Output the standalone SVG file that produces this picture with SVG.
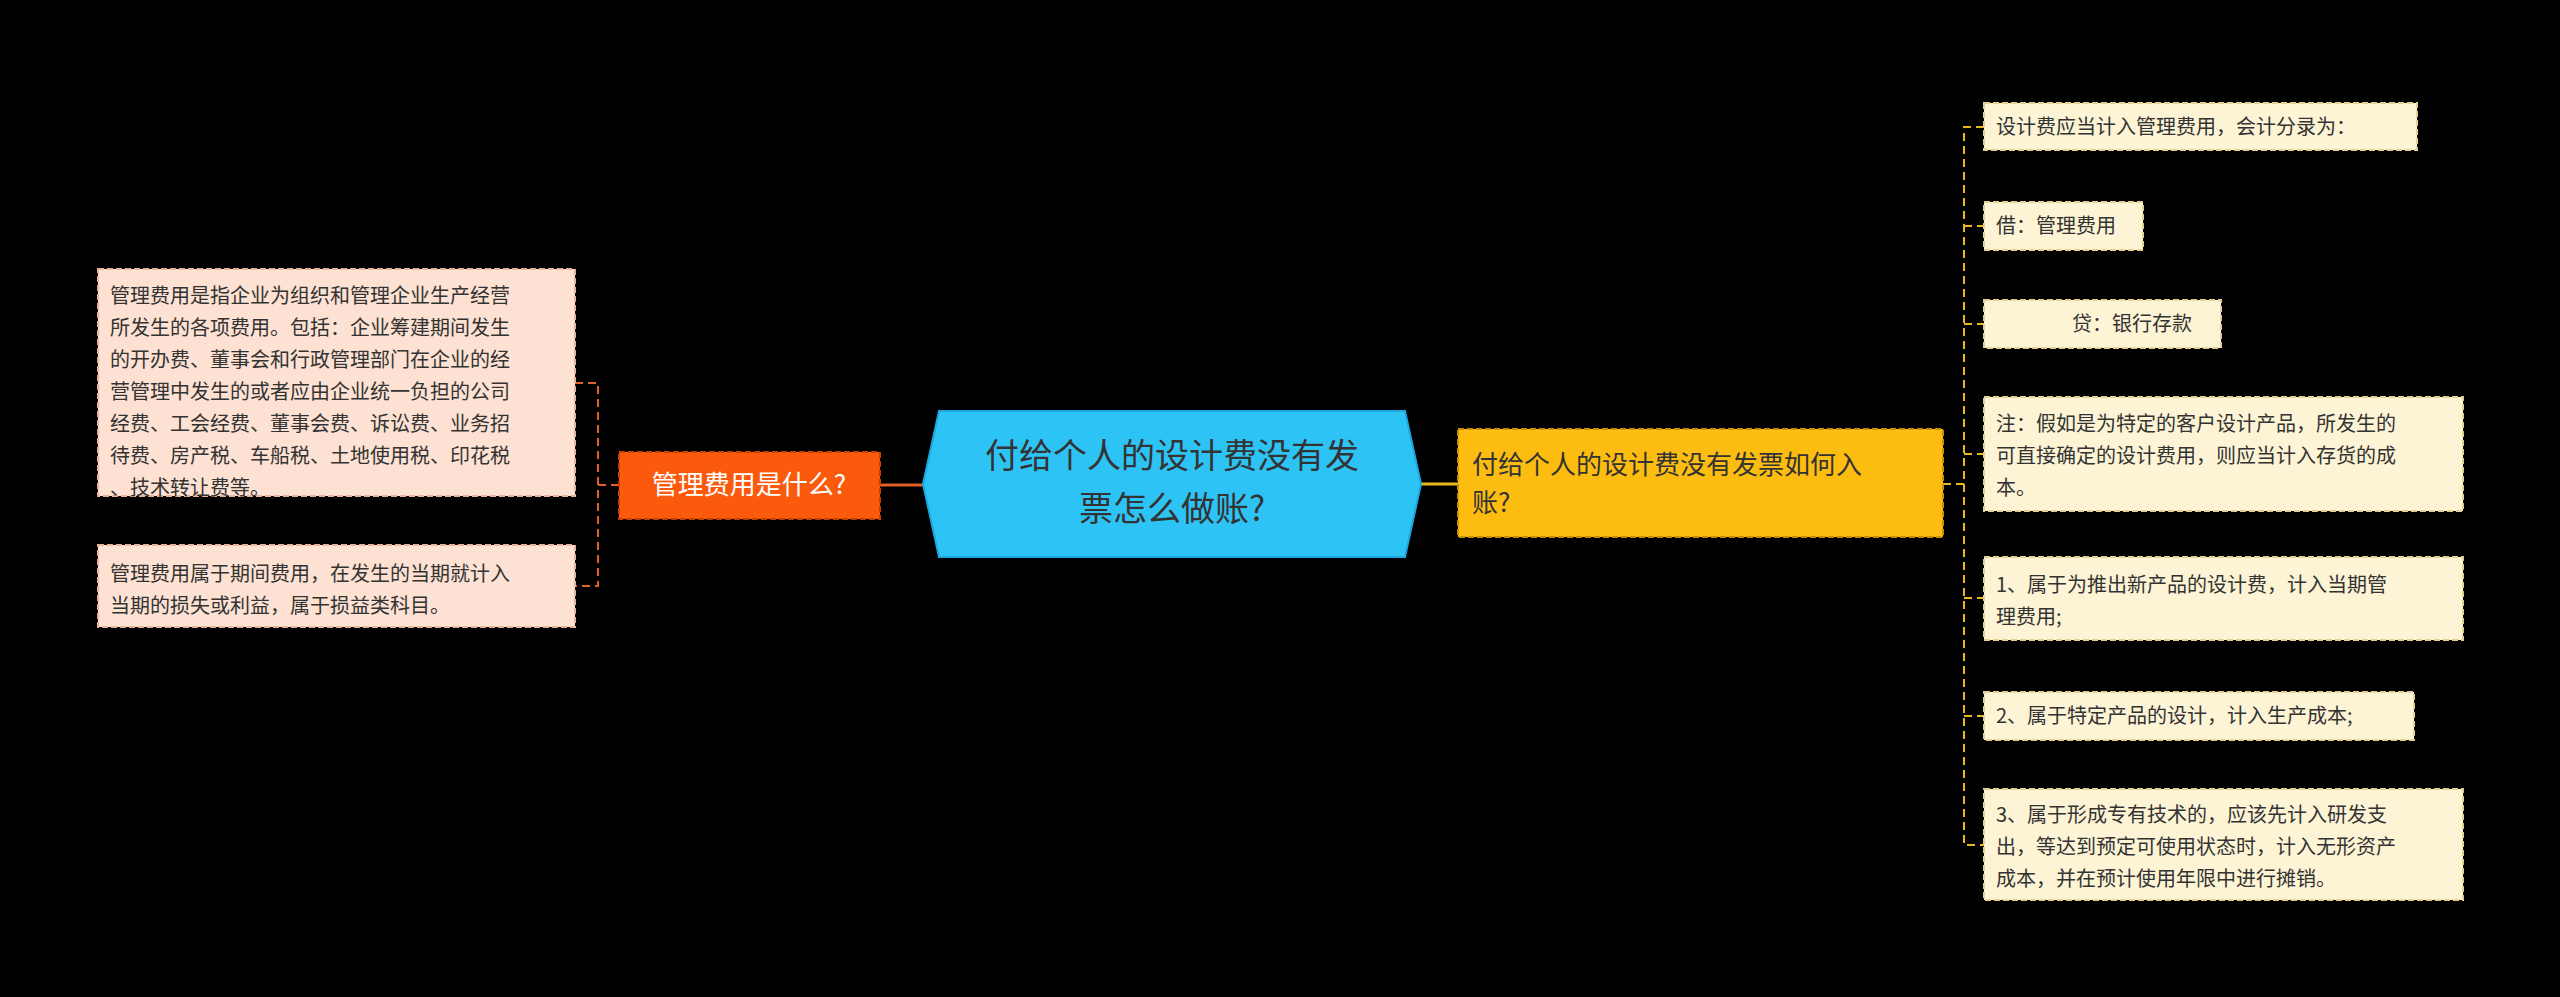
<svg xmlns="http://www.w3.org/2000/svg" width="2560" height="997" viewBox="0 0 2560 997">
<style>
text{font-family:"Noto Sans CJK SC","Noto Sans",sans-serif;fill:#333}
.s{font-size:20px}
.lb{fill:#fde1d2;stroke:#e8b39a;stroke-width:2;stroke-dasharray:6 3}
.rb{fill:#fdf3d5;stroke:#e3cf92;stroke-width:2;stroke-dasharray:6 3}
.lc{fill:none;stroke:#e0602a;stroke-width:2;stroke-dasharray:8 5}
.rc{fill:none;stroke:#e9b820;stroke-width:2;stroke-dasharray:8 5}
</style>
<rect width="2560" height="997" fill="#000"/>
<g id="connectors">
<line x1="880" y1="485" x2="923" y2="485" stroke="#e0602a" stroke-width="3"/>
<line x1="1421" y1="484" x2="1458" y2="484" stroke="#e9b820" stroke-width="3"/>
<path class="lc" d="M619 485 H598 M575 383 H598 V586 H575"/>
<path class="rc" d="M1943 484 H1964 M1984 127 H1964 V845 H1984 M1964 226 H1984 M1964 324 H1984 M1964 454 H1984 M1964 598 H1984 M1964 716 H1984"/>
</g>
<g id="center">
<polygon points="923,484 939,411 1405,411 1421,484 1405,557 939,557" fill="#2ec3f5" stroke="#1aa8e0" stroke-width="2"/>
<text x="1172" y="468" font-size="34" text-anchor="middle">付给个人的设计费没有发</text>
<text x="1172" y="521" font-size="34" text-anchor="middle">票怎么做账?</text>
</g>
<g id="orange">
<rect x="619" y="452" width="261" height="67" fill="#fb5a0c" stroke="#c84000" stroke-width="2" stroke-dasharray="6 3"/>
<text x="749" y="494" font-size="26" text-anchor="middle" style="fill:#fff">管理费用是什么?</text>
</g>
<g id="left1">
<rect class="lb" x="98" y="269" width="477" height="227"/>
<text class="s" x="110" y="303">管理费用是指企业为组织和管理企业生产经营</text>
<text class="s" x="110" y="335">所发生的各项费用。包括：企业筹建期间发生</text>
<text class="s" x="110" y="367">的开办费、董事会和行政管理部门在企业的经</text>
<text class="s" x="110" y="399">营管理中发生的或者应由企业统一负担的公司</text>
<text class="s" x="110" y="431">经费、工会经费、董事会费、诉讼费、业务招</text>
<text class="s" x="110" y="463">待费、房产税、车船税、土地使用税、印花税</text>
<text class="s" x="110" y="483" dy="12">、技术转让费等。</text>
</g>
<g id="left2">
<rect class="lb" x="98" y="545" width="477" height="82"/>
<text class="s" x="110" y="581">管理费用属于期间费用，在发生的当期就计入</text>
<text class="s" x="110" y="613">当期的损失或利益，属于损益类科目。</text>
</g>
<g id="yellow">
<rect x="1458" y="429" width="485" height="108" fill="#fdbd10" stroke="#c89000" stroke-width="2" stroke-dasharray="6 3"/>
<text x="1472" y="474" font-size="26">付给个人的设计费没有发票如何入</text>
<text x="1472" y="512" font-size="26">账?</text>
</g>
<g id="r1"><rect class="rb" x="1984" y="103" width="433" height="47"/><text class="s" x="1996" y="134">设计费应当计入管理费用，会计分录为：</text></g>
<g id="r2"><rect class="rb" x="1984" y="202" width="159" height="48"/><text class="s" x="1996" y="233">借：管理费用</text></g>
<g id="r3"><rect class="rb" x="1984" y="300" width="237" height="48"/><text class="s" x="2072" y="331">贷：银行存款</text></g>
<g id="r4"><rect class="rb" x="1984" y="397" width="479" height="114"/>
<text class="s" x="1996" y="431">注：假如是为特定的客户设计产品，所发生的</text>
<text class="s" x="1996" y="463">可直接确定的设计费用，则应当计入存货的成</text>
<text class="s" x="1996" y="495">本。</text></g>
<g id="r5"><rect class="rb" x="1984" y="557" width="479" height="83"/>
<text class="s" x="1996" y="592">1、属于为推出新产品的设计费，计入当期管</text>
<text class="s" x="1996" y="624">理费用;</text></g>
<g id="r6"><rect class="rb" x="1984" y="692" width="430" height="48"/><text class="s" x="1996" y="723">2、属于特定产品的设计，计入生产成本;</text></g>
<g id="r7"><rect class="rb" x="1984" y="789" width="479" height="111"/>
<text class="s" x="1996" y="822">3、属于形成专有技术的，应该先计入研发支</text>
<text class="s" x="1996" y="854">出，等达到预定可使用状态时，计入无形资产</text>
<text class="s" x="1996" y="886">成本，并在预计使用年限中进行摊销。</text></g>
</svg>
